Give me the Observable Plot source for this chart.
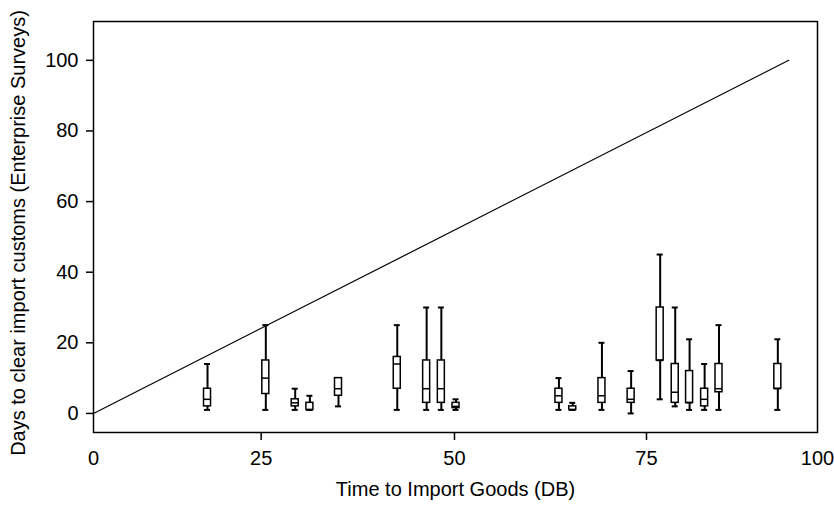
<!DOCTYPE html>
<html><head><meta charset="utf-8">
<script src="https://cdn.jsdelivr.net/npm/d3@7"></script>
<script src="https://cdn.jsdelivr.net/npm/@observablehq/plot@0.6"></script>
<style>html,body{margin:0;padding:0;background:#fff}</style>
</head><body><div id="chart"></div>
<script>
// Box positions: Doing Business "time to import" (days)
const dbDays      = [17.0, 25.6, 29.4, 31.3, 35.0, 42.6, 46.4, 48.3, 50.2, 63.6, 65.4, 69.2, 73.0, 77.0, 79.2, 81.3, 83.5, 85.6, 94.2];
// Enterprise Survey distribution of days to clear import customs
const whiskerLow  = [1,    1,    1,    1,    2,    1,    1,    1,    1,    1,    1,    1,    0,    4,    2,    1,    1,    1,    1];
const quartile1   = [2,    5.5,  2,    1,    5,    7,    3,    3,    1.5,  3,    1,    3,    3,    15,   3,    3,    2,    6,    7];
const median      = [4,    10,   3,    1,    7,    14,   7,    7,    2,    5,    1,    5,    4,    15,   6,    3,    4,    7,    7];
const quartile3   = [7,    15,   4,    3,    10,   16,   15,   15,   3,    7,    2,    10,   7,    30,   14,   12,   7,    14,   14];
const whiskerHigh = [14,   25,   7,    5,    10,   25,   30,   30,   4,    10,   3,    20,   12,   45,   30,   21,   14,   25,   21];

const refLineX = [0, 95.8];
const refLineY = [0, 100];

const xTicks = [0, 25, 50, 75, 100];
const xTickMarks = [25, 50, 75];
const yTicks = [0, 20, 40, 60, 80, 100];

const xLabel = "Time to Import Goods (DB)";
const yLabel = "Days to clear import customs (Enterprise Surveys)";

const boxes = dbDays.map((x, i) => ({
  x, lo: whiskerLow[i], q1: quartile1[i], med: median[i], q3: quartile3[i], hi: whiskerHigh[i]
}));
const refLine = refLineX.map((x, i) => ({x, y: refLineY[i]}));

// the source axis is not evenly spaced between its labelled ticks: piecewise-linear warp
const xWarp = d3.scaleLinear().domain(xTicks).range([0, 23.16, 49.86, 76.38, 100]);

const chart = Plot.plot({
  width: 834,
  height: 506,
  marginLeft: 93,
  marginRight: 17,
  marginTop: 21,
  marginBottom: 74,
  style: {fontFamily: "'Liberation Sans', Arial, sans-serif", fontSize: "20px", color: "black", background: "white"},
  x: {domain: [0, 100], transform: xWarp},
  y: {domain: [-5.4, 111]},
  marks: [
    Plot.line(refLine, {x: "x", y: "y", stroke: "black", strokeWidth: 1.2}),
    Plot.ruleX(boxes, {x: "x", y1: "lo", y2: "hi", stroke: "black", strokeWidth: 2}),
    Plot.ruleY(boxes, {y: "lo", x1: "x", x2: "x", insetLeft: -3, insetRight: -3, stroke: "black", strokeWidth: 2}),
    Plot.ruleY(boxes, {y: "hi", x1: "x", x2: "x", insetLeft: -3, insetRight: -3, stroke: "black", strokeWidth: 2}),
    Plot.rect(boxes, {x1: "x", x2: "x", y1: "q1", y2: "q3", insetLeft: -3.5, insetRight: -3.5, fill: "white", stroke: "black", strokeWidth: 1.5}),
    Plot.ruleY(boxes, {y: "med", x1: "x", x2: "x", insetLeft: -3.5, insetRight: -3.5, stroke: "black", strokeWidth: 1.5}),
    Plot.frame({stroke: "black", strokeWidth: 1.5}),
    Plot.axisY(yTicks, {tickSize: 7, tickPadding: 8, strokeWidth: 1.5, label: null, fontSize: 20}),
    Plot.axisX(xTickMarks, {tickSize: 8, tickFormat: () => "", strokeWidth: 1.5, label: null}),
    Plot.axisX(xTicks, {tickSize: 0, tickPadding: 18, label: null, fontSize: 20}),
    Plot.text([xLabel], {frameAnchor: "bottom", dy: 63, fontSize: 20, fill: "black"}),
    Plot.text([yLabel], {frameAnchor: "left", textAnchor: "middle", rotate: -90, dx: -75, dy: 6, fontSize: 20, fill: "black"})
  ]
});
document.getElementById("chart").appendChild(chart);
</script>
</body></html>
